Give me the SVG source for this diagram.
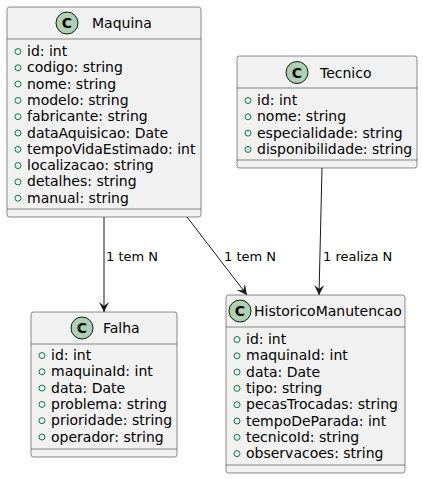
<svg xmlns="http://www.w3.org/2000/svg" width="423" height="479" viewBox="0 0 423 479">
<defs>
<style>
.box{fill:#F1F1F1;stroke:#181818;stroke-width:0.5}
.sep{stroke:#181818;stroke-width:0.5}
.ci{fill:#ADD1B2;stroke:#181818;stroke-width:1}
.cl{font-family:"DejaVu Sans",sans-serif;font-size:14px;font-weight:bold;fill:#000;text-anchor:middle}
.nm{font-family:"DejaVu Sans",sans-serif;font-size:14px;fill:#000}
.at{font-family:"DejaVu Sans",sans-serif;font-size:14px;fill:#000}
.vis{fill:none;stroke:#038048;stroke-width:1}
.edge{stroke:#181818;stroke-width:1;fill:none}
.lbl{font-family:"DejaVu Sans",sans-serif;font-size:13px;fill:#000}
</style>
<marker id="arr" viewBox="0 0 10 10" refX="10" refY="5" markerWidth="10" markerHeight="10" markerUnits="userSpaceOnUse" orient="auto">
<path d="M0,0 L10,5 L0,10 L4,5 Z" fill="#181818"/>
</marker>
</defs>
<rect width="423" height="479" fill="#FFFFFF"/>

<g id="Maquina">
<rect class="box" x="7" y="7" width="194" height="210" rx="2.5"/>
<circle class="ci" cx="67" cy="23" r="11"/>
<text class="cl" x="67" y="28">C</text>
<text class="nm" x="92" y="28">Maquina</text>
<line class="sep" x1="7" y1="39" x2="201" y2="39"/>
<circle class="vis" cx="18" cy="51.5" r="3"/><text class="at" x="27" y="56">id: int</text>
<circle class="vis" cx="18" cy="67.8" r="3"/><text class="at" x="27" y="72.3">codigo: string</text>
<circle class="vis" cx="18" cy="84.1" r="3"/><text class="at" x="27" y="88.6">nome: string</text>
<circle class="vis" cx="18" cy="100.4" r="3"/><text class="at" x="27" y="104.9">modelo: string</text>
<circle class="vis" cx="18" cy="116.7" r="3"/><text class="at" x="27" y="121.2">fabricante: string</text>
<circle class="vis" cx="18" cy="133" r="3"/><text class="at" x="27" y="137.5">dataAquisicao: Date</text>
<circle class="vis" cx="18" cy="149.3" r="3"/><text class="at" x="27" y="153.8">tempoVidaEstimado: int</text>
<circle class="vis" cx="18" cy="165.6" r="3"/><text class="at" x="27" y="170.1">localizacao: string</text>
<circle class="vis" cx="18" cy="181.9" r="3"/><text class="at" x="27" y="186.4">detalhes: string</text>
<circle class="vis" cx="18" cy="198.2" r="3"/><text class="at" x="27" y="202.7">manual: string</text>
<line class="sep" x1="7" y1="209" x2="201" y2="209"/>
</g>

<g id="Tecnico">
<rect class="box" x="237" y="56" width="180" height="112" rx="2.5"/>
<circle class="ci" cx="297" cy="72.5" r="11"/>
<text class="cl" x="297" y="77.5">C</text>
<text class="nm" x="320" y="77.5">Tecnico</text>
<line class="sep" x1="237" y1="88" x2="417" y2="88"/>
<circle class="vis" cx="248" cy="100.5" r="3"/><text class="at" x="257" y="105">id: int</text>
<circle class="vis" cx="248" cy="116.8" r="3"/><text class="at" x="257" y="121.3">nome: string</text>
<circle class="vis" cx="248" cy="133.1" r="3"/><text class="at" x="257" y="137.6">especialidade: string</text>
<circle class="vis" cx="248" cy="149.4" r="3"/><text class="at" x="257" y="153.9">disponibilidade: string</text>
<line class="sep" x1="237" y1="160" x2="417" y2="160"/>
</g>

<g id="Falha">
<rect class="box" x="31" y="312" width="146" height="145" rx="2.5"/>
<circle class="ci" cx="82" cy="328" r="11"/>
<text class="cl" x="82" y="333">C</text>
<text class="nm" x="103" y="333">Falha</text>
<line class="sep" x1="31" y1="344" x2="177" y2="344"/>
<circle class="vis" cx="42" cy="355.5" r="3"/><text class="at" x="51" y="360">id: int</text>
<circle class="vis" cx="42" cy="371.8" r="3"/><text class="at" x="51" y="376.3">maquinaId: int</text>
<circle class="vis" cx="42" cy="388.1" r="3"/><text class="at" x="51" y="392.6">data: Date</text>
<circle class="vis" cx="42" cy="404.4" r="3"/><text class="at" x="51" y="408.9">problema: string</text>
<circle class="vis" cx="42" cy="420.7" r="3"/><text class="at" x="51" y="425.2">prioridade: string</text>
<circle class="vis" cx="42" cy="437" r="3"/><text class="at" x="51" y="441.5">operador: string</text>
<line class="sep" x1="31" y1="449" x2="177" y2="449"/>
</g>

<g id="HistoricoManutencao">
<rect class="box" x="226" y="295" width="179" height="178" rx="2.5"/>
<circle class="ci" cx="240" cy="311" r="11"/>
<text class="cl" x="240" y="316">C</text>
<text class="nm" x="254" y="316">HistoricoManutencao</text>
<line class="sep" x1="226" y1="327" x2="405" y2="327"/>
<circle class="vis" cx="237" cy="339.5" r="3"/><text class="at" x="246" y="344">id: int</text>
<circle class="vis" cx="237" cy="355.8" r="3"/><text class="at" x="246" y="360.3">maquinaId: int</text>
<circle class="vis" cx="237" cy="372.1" r="3"/><text class="at" x="246" y="376.6">data: Date</text>
<circle class="vis" cx="237" cy="388.4" r="3"/><text class="at" x="246" y="392.9">tipo: string</text>
<circle class="vis" cx="237" cy="404.7" r="3"/><text class="at" x="246" y="409.2">pecasTrocadas: string</text>
<circle class="vis" cx="237" cy="421" r="3"/><text class="at" x="246" y="425.5">tempoDeParada: int</text>
<circle class="vis" cx="237" cy="437.3" r="3"/><text class="at" x="246" y="441.8">tecnicoId: string</text>
<circle class="vis" cx="237" cy="453.6" r="3"/><text class="at" x="246" y="458.1">observacoes: string</text>
<line class="sep" x1="226" y1="465" x2="405" y2="465"/>
</g>

<g id="connectors">
<line class="edge" x1="104" y1="217" x2="104" y2="312" marker-end="url(#arr)"/>
<text class="lbl" x="106" y="261">1 tem N</text>
<line class="edge" x1="187" y1="217" x2="247" y2="295" marker-end="url(#arr)"/>
<text class="lbl" x="224" y="261">1 tem N</text>
<line class="edge" x1="322" y1="168" x2="319" y2="295" marker-end="url(#arr)"/>
<text class="lbl" x="323" y="261">1 realiza N</text>
</g>
</svg>
